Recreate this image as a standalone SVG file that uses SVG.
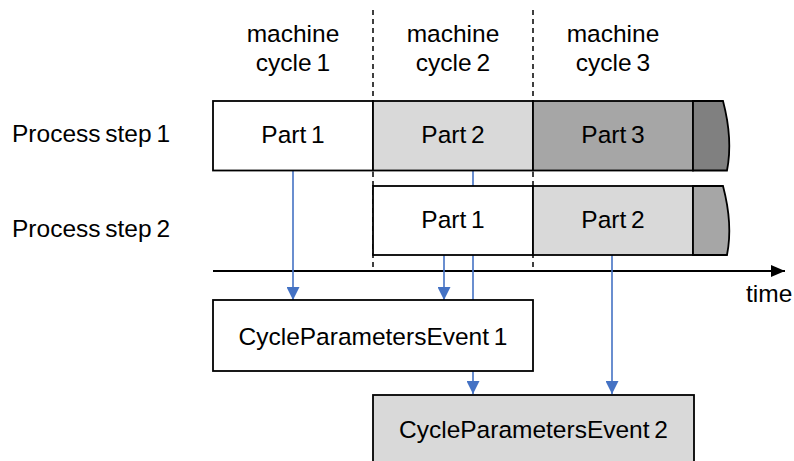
<svg xmlns="http://www.w3.org/2000/svg" width="794" height="461" viewBox="0 0 794 461">
<style>
text{font-family:"Liberation Sans",Arial,sans-serif;font-size:24.5px;word-spacing:-2px;fill:#000}
.c{text-anchor:middle}
.box{stroke:#000;stroke-width:1.8}
.dash{stroke:#000;stroke-width:1.5;stroke-dasharray:5,4;fill:none}
.blue{stroke:#4472C4;stroke-width:1.6;fill:none}
</style>
<defs>
<marker id="ah" markerWidth="13" markerHeight="13" viewBox="0 0 13 13" refX="13" refY="6.5" orient="auto" markerUnits="userSpaceOnUse">
<path d="M0,0 L13,6.5 L0,13 Z" fill="#4472C4"/>
</marker>
<marker id="th" markerWidth="14" markerHeight="12" viewBox="0 0 14 12" refX="14" refY="6" orient="auto" markerUnits="userSpaceOnUse">
<path d="M0,0 L14,6 L0,12 Z" fill="#000"/>
</marker>
</defs>
<g id="labels">
<text class="c" x="293" y="42">machine</text>
<text class="c" x="293" y="71">cycle 1</text>
<text class="c" x="453" y="42">machine</text>
<text class="c" x="453" y="71">cycle 2</text>
<text class="c" x="613" y="42">machine</text>
<text class="c" x="613" y="71">cycle 3</text>
<text x="12" y="142">Process step 1</text>
<text x="12" y="237">Process step 2</text>
<text x="746" y="302">time</text>
</g>
<g id="guides">
<line class="dash" x1="373" y1="10" x2="373" y2="268"/>
<line class="dash" x1="533" y1="10" x2="533" y2="268"/>
<line x1="213" y1="271" x2="785" y2="271" stroke="#000" stroke-width="1.8" marker-end="url(#th)"/>
</g>
<g id="connectors">
<line class="blue" x1="293" y1="171" x2="293" y2="300" marker-end="url(#ah)"/>
<line class="blue" x1="444" y1="255" x2="444" y2="300" marker-end="url(#ah)"/>
<line class="blue" x1="473" y1="171" x2="473" y2="394" marker-end="url(#ah)"/>
<line class="blue" x1="612" y1="255" x2="612" y2="394" marker-end="url(#ah)"/>
</g>
<g id="step1">
<rect class="box" x="213" y="101" width="160" height="69.5" fill="#fff"/>
<rect class="box" x="373" y="101" width="160" height="69.5" fill="#D9D9D9"/>
<rect class="box" x="533" y="101" width="160" height="69.5" fill="#A6A6A6"/>
<path class="box" d="M693,101 H723 C728,120 732,145 727,170.5 H693 Z" fill="#808080"/>
<text class="c" x="293" y="143">Part 1</text>
<text class="c" x="453" y="143">Part 2</text>
<text class="c" x="613" y="143">Part 3</text>
</g>
<g id="step2">
<rect class="box" x="373" y="186" width="160" height="69" fill="#fff"/>
<rect class="box" x="533" y="186" width="160" height="69" fill="#D9D9D9"/>
<path class="box" d="M693,186 H723 C728,205 732,230 727,255 H693 Z" fill="#A6A6A6"/>
<text class="c" x="453" y="228">Part 1</text>
<text class="c" x="613" y="228">Part 2</text>
</g>
<g id="event1">
<rect class="box" x="213" y="300" width="320" height="71" fill="#fff"/>
<text class="c" x="373" y="345">CycleParametersEvent 1</text>
</g>
<g id="event2">
<rect class="box" x="373" y="395" width="321" height="80" fill="#D9D9D9"/>
<text class="c" x="533.5" y="438">CycleParametersEvent 2</text>
</g>
</svg>
